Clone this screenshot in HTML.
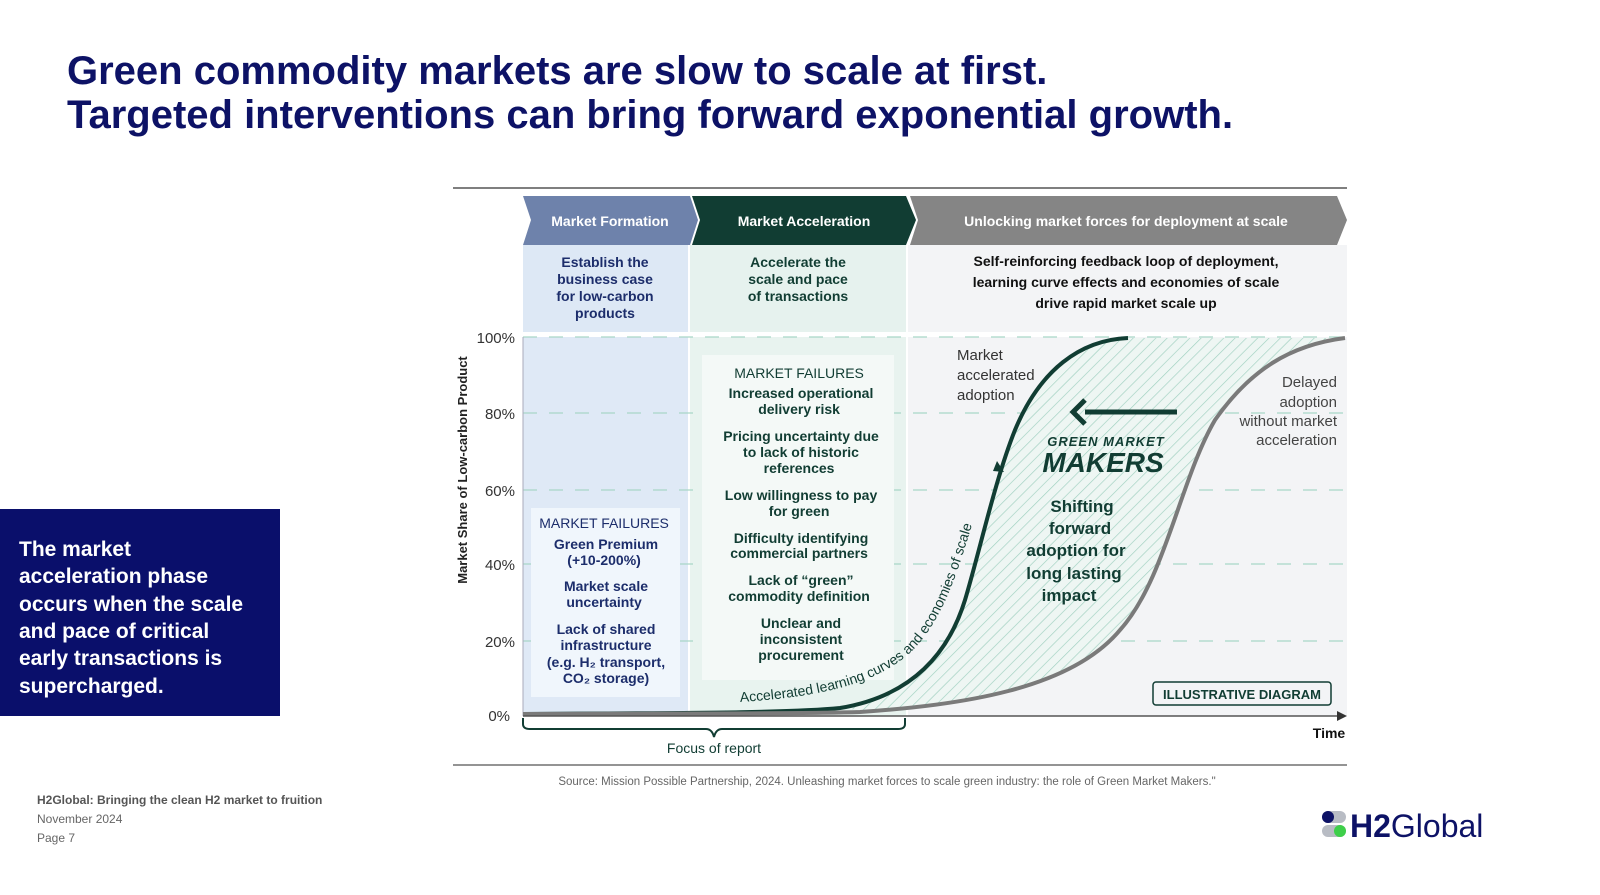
<!DOCTYPE html>
<html><head><meta charset="utf-8"><style>
html,body{margin:0;padding:0;background:#fff;}
svg{display:block;font-family:"Liberation Sans",sans-serif;}
</style></head><body>
<svg width="1600" height="895" viewBox="0 0 1600 895" xmlns="http://www.w3.org/2000/svg">
<defs>
<pattern id="hatch" width="8" height="8" patternUnits="userSpaceOnUse" patternTransform="rotate(45)">
<rect width="8" height="8" fill="#eef6f3"/><line x1="0" y1="0" x2="0" y2="8" stroke="#9fd0c0" stroke-width="1.3"/>
</pattern>
<path id="tp" d="M740,702 C820,697 880,684 915,648 C945,615 958,570 972,525 L988,472"/>
</defs>
<text x="67" y="84" font-size="40" font-weight="bold" fill="#0d1266">Green commodity markets are slow to scale at first.</text>
<text x="67" y="128" font-size="40" font-weight="bold" fill="#0d1266">Targeted interventions can bring forward exponential growth.</text>

<line x1="453" y1="188" x2="1347" y2="188" stroke="#555" stroke-width="1.5"/>
<polygon points="523,196 690,196 698,220 690,245 523,245 531,220" fill="#6e82ab"/>
<polygon points="692,196 906,196 916,220 906,245 692,245 700,220" fill="#113d33"/>
<polygon points="910,196 1337,196 1347,220 1337,245 910,245 918,220" fill="#858585"/>
<text x="610" y="226" font-size="14" font-weight="bold" fill="#fff" text-anchor="middle">Market Formation</text>
<text x="804" y="226" font-size="14" font-weight="bold" fill="#fff" text-anchor="middle">Market Acceleration</text>
<text x="1126" y="226" font-size="14" font-weight="bold" fill="#fff" text-anchor="middle">Unlocking market forces for deployment at scale</text>
<rect x="523" y="245" width="165" height="87" fill="#dde8f5"/>
<rect x="690" y="245" width="216" height="87" fill="#e6f2ee"/>
<rect x="908" y="245" width="439" height="87" fill="#f3f4f6"/>
<g font-size="14" font-weight="bold" text-anchor="middle">
<text fill="#1c2d6b"><tspan x="605" y="267">Establish the</tspan><tspan x="605" y="284">business case</tspan><tspan x="605" y="301">for low-carbon</tspan><tspan x="605" y="318">products</tspan></text>
<text fill="#113d33"><tspan x="798" y="267">Accelerate the</tspan><tspan x="798" y="284">scale and pace</tspan><tspan x="798" y="301">of transactions</tspan></text>
<text fill="#111"><tspan x="1126" y="266">Self-reinforcing feedback loop of deployment,</tspan><tspan x="1126" y="287">learning curve effects and economies of scale</tspan><tspan x="1126" y="308">drive rapid market scale up</tspan></text>
</g>
<rect x="523" y="337" width="165" height="379" fill="#dfe9f6"/>
<rect x="690" y="337" width="216" height="379" fill="#e8f3ef"/>
<rect x="908" y="337" width="439" height="379" fill="#f3f4f6"/>
<g stroke="#a9d6c8" stroke-width="1.3" stroke-dasharray="14,12">
<line x1="523" y1="337" x2="1347" y2="337"/><line x1="523" y1="413" x2="1347" y2="413"/><line x1="523" y1="490" x2="1347" y2="490"/><line x1="523" y1="564" x2="1347" y2="564"/><line x1="523" y1="641" x2="1347" y2="641"/>
</g>
<line x1="523" y1="337" x2="523" y2="716" stroke="#aab" stroke-width="1"/>
<g font-size="15" fill="#333" text-anchor="end">
<text x="515" y="343">100%</text><text x="515" y="419">80%</text><text x="515" y="496">60%</text><text x="515" y="570">40%</text><text x="515" y="647">20%</text><text x="510" y="721">0%</text>
</g>
<text transform="translate(467,470) rotate(-90)" font-size="13" font-weight="bold" fill="#222" text-anchor="middle">Market Share of Low-carbon Product</text>
<rect x="531" y="508" width="149" height="189" fill="#f0f6fc"/>
<rect x="702" y="355" width="192" height="325" fill="#f4f9f7"/>
<g font-size="14" text-anchor="middle">
<text fill="#1c2d6b"><tspan x="606" y="528">MARKET FAILURES</tspan>
<tspan x="606" y="549" font-weight="bold">Green Premium</tspan><tspan x="606" y="565" font-weight="bold">(+10-200%)</tspan>
<tspan x="606" y="591" font-weight="bold">Market scale</tspan><tspan x="606" y="607" font-weight="bold">uncertainty</tspan>
<tspan x="606" y="634" font-weight="bold">Lack of shared</tspan><tspan x="606" y="650" font-weight="bold">infrastructure</tspan><tspan x="606" y="667" font-weight="bold">(e.g. H₂ transport,</tspan><tspan x="606" y="683" font-weight="bold">CO₂ storage)</tspan></text>
<text fill="#113d33"><tspan x="801" y="378">MARKET FAILURES</tspan>
<tspan x="801" y="398" font-weight="bold">Increased operational</tspan><tspan x="801" y="414" font-weight="bold">delivery risk</tspan>
<tspan x="801" y="441" font-weight="bold">Pricing uncertainty due</tspan><tspan x="801" y="457" font-weight="bold">to lack of historic</tspan><tspan x="801" y="473" font-weight="bold">references</tspan>
<tspan x="801" y="500" font-weight="bold">Low willingness to pay</tspan><tspan x="801" y="516" font-weight="bold">for green</tspan>
<tspan x="801" y="543" font-weight="bold">Difficulty identifying</tspan><tspan x="801" y="558" font-weight="bold">commercial partners</tspan>
<tspan x="801" y="585" font-weight="bold">Lack of “green”</tspan><tspan x="801" y="601" font-weight="bold">commodity definition</tspan>
<tspan x="801" y="628" font-weight="bold">Unclear and</tspan><tspan x="801" y="644" font-weight="bold">inconsistent</tspan><tspan x="801" y="660" font-weight="bold">procurement</tspan></text>
</g>
<path d="M840,708 C900,698 945,665 965,600 C980,550 995,480 1015,430 C1040,370 1080,340 1128,338 L1345,338 C1290,345 1250,370 1215,420 C1180,480 1165,580 1120,630 C1070,690 960,705 880,712 Z" fill="url(#hatch)"/>
<path d="M523,714 C680,713 790,713 840,708 C900,698 945,665 965,600 C980,550 995,480 1015,430 C1040,370 1080,340 1128,338" fill="none" stroke="#113d33" stroke-width="4"/>
<path d="M523,714 C700,713 800,714 860,712 C960,705 1070,690 1120,630 C1165,580 1180,480 1215,420 C1250,370 1290,345 1345,338" fill="none" stroke="#7a7a7a" stroke-width="4"/>
<text font-size="14" fill="#113d33"><textPath href="#tp">Accelerated learning curves and economies of scale</textPath></text>
<polygon points="997,461 1004,472 993,471" fill="#113d33"/>
<line x1="523" y1="716" x2="1340" y2="716" stroke="#555" stroke-width="1.5"/>
<polygon points="1347,716 1337,711 1337,721" fill="#333"/>
<text x="1329" y="738" font-size="14" font-weight="bold" fill="#111" text-anchor="middle">Time</text>
<line x1="1085" y1="412" x2="1177" y2="412" stroke="#113d33" stroke-width="5"/>
<path d="M1085,400 L1073,412 L1085,424" fill="none" stroke="#113d33" stroke-width="5"/>
<g fill="#333" font-size="15"><text x="957" y="360">Market</text><text x="957" y="380">accelerated</text><text x="957" y="400">adoption</text></g>
<g fill="#444" font-size="15" text-anchor="end"><text x="1337" y="387">Delayed</text><text x="1337" y="407">adoption</text><text x="1337" y="426">without market</text><text x="1337" y="445">acceleration</text></g>
<text x="1106" y="446" font-size="13" font-style="italic" font-weight="bold" fill="#113d33" text-anchor="middle" letter-spacing="1">GREEN MARKET</text>
<text x="1103" y="472" font-size="28" font-style="italic" font-weight="bold" fill="#113d33" text-anchor="middle">MAKERS</text>
<g font-size="17" font-weight="bold" fill="#113d33" text-anchor="middle"><text x="1082" y="512">Shifting</text><text x="1080" y="534">forward</text><text x="1076" y="556">adoption for</text><text x="1074" y="579">long lasting</text><text x="1069" y="601">impact</text></g>
<rect x="1153" y="682" width="178" height="23" rx="3" fill="none" stroke="#113d33" stroke-width="1.5"/>
<text x="1242" y="699" font-size="13" font-weight="bold" fill="#113d33" text-anchor="middle">ILLUSTRATIVE DIAGRAM</text>
<path d="M523,718 L523,724 Q523,729 530,729 L706,729 Q712,729 714,737 Q716,729 722,729 L898,729 Q905,729 905,724 L905,718" fill="none" stroke="#113d33" stroke-width="2"/>
<text x="714" y="753" font-size="14" fill="#113d33" text-anchor="middle">Focus of report</text>
<line x1="453" y1="765" x2="1347" y2="765" stroke="#555" stroke-width="1.2"/>
<text x="887" y="785" font-size="11.5" fill="#666" text-anchor="middle">Source: Mission Possible Partnership, 2024. Unleashing market forces to scale green industry: the role of Green Market Makers."</text>
<rect x="0" y="509" width="280" height="207" fill="#0a0f6b"/>
<g font-size="21" font-weight="bold" fill="#fff"><text x="19" y="556">The market</text><text x="19" y="583">acceleration phase</text><text x="19" y="611">occurs when the scale</text><text x="19" y="638">and pace of critical</text><text x="19" y="665">early transactions is</text><text x="19" y="693">supercharged.</text></g>
<text x="37" y="804" font-size="12" font-weight="bold" fill="#555">H2Global: Bringing the clean H2 market to fruition</text>
<text x="37" y="823" font-size="12" fill="#666">November 2024</text>
<text x="37" y="842" font-size="12" fill="#666">Page 7</text>
<rect x="1322" y="811" width="24" height="12" rx="6" fill="#b8bcc4"/><circle cx="1328" cy="817" r="6" fill="#0d1266"/>
<rect x="1322" y="825" width="24" height="12" rx="6" fill="#b8bcc4"/><circle cx="1340" cy="831" r="6" fill="#3ecf4a"/>
<text x="1350" y="837" font-size="32" fill="#0d1266"><tspan font-weight="bold">H2</tspan>Global</text>
</svg>
</body></html>
